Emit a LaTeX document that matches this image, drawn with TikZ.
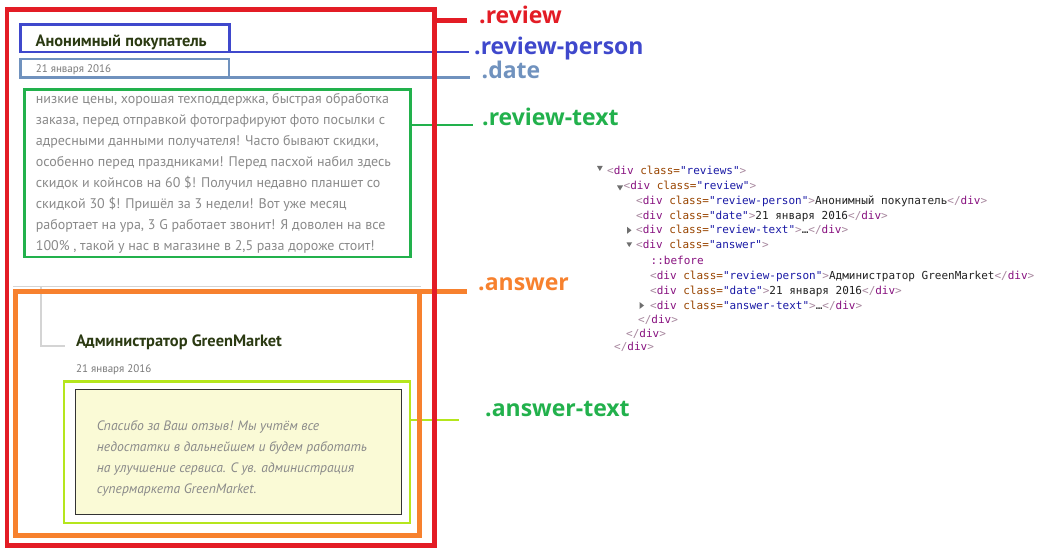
\documentclass[tikz,border=0pt]{standalone}
\usepackage{fontspec}
\setmainfont{PT Sans}
\setmonofont{DejaVu Sans Mono}
\newfontfamily\lblfont{Open Sans}
\usetikzlibrary{fit,backgrounds}
\definecolor{cRed}{HTML}{E31C25}
\definecolor{cBlue}{HTML}{3F48CC}
\definecolor{cDate}{HTML}{7092BE}
\definecolor{cGreen}{HTML}{22B14C}
\definecolor{cOrange}{HTML}{F7812E}
\definecolor{cLime}{HTML}{B5E61D}
\definecolor{cName}{HTML}{2B3A12}
\definecolor{cBody}{HTML}{8A8A8A}
\definecolor{cSmall}{HTML}{7A7A7A}
\definecolor{cPale}{HTML}{FAFAD6}
\definecolor{cBracket}{HTML}{D4D4D4}
\definecolor{cTag}{HTML}{881280}
\definecolor{cAng}{HTML}{A8889F}
\definecolor{cAttr}{HTML}{994500}
\definecolor{cVal}{HTML}{1A1AA6}
\definecolor{cTxt}{HTML}{222222}
\definecolor{cTri}{HTML}{6E6E6E}
\newcommand\cA[1]{\textcolor{cAng}{#1}}
\newcommand\cT[1]{\textcolor{cTag}{#1}}
\newcommand\cN[1]{\textcolor{cAttr}{#1}}
\newcommand\cV[1]{\textcolor{cVal}{#1}}
\newcommand\opendiv[1]{\cA{<}\cT{div} \cN{class=}\cV{"#1"}\cA{>}}
\newcommand\closediv{\cA{</}\cT{div}\cA{>}}
\begin{document}
\begin{tikzpicture}[x=1pt,y=-1pt,
  frame/.style={draw, inner sep=0pt, fill=none},
  lbl/.style={anchor=base west, inner sep=0pt, font=\lblfont\bfseries\fontsize{23}{26}\selectfont},
  namestyle/.style={anchor=base west, inner sep=0pt, text=cName, font=\bfseries\fontsize{16.4}{19}\selectfont},
  datestyle/.style={anchor=base west, inner sep=0pt, text=cSmall, font=\fontsize{11}{13}\selectfont},
  bodystyle/.style={anchor=base west, inner sep=0pt, align=left, text=cBody, font=\fontsize{14}{21}\selectfont},
  codestyle/.style={anchor=base west, inner sep=0pt, text=cTxt, font=\ttfamily\fontsize{11}{13}\selectfont},
  conn/.style={line cap=butt},
  tri/.style={fill=cTri, draw=none}]
\begin{pgfonlayer}{background}
\fill[white] (0,0) rectangle (1063,556);
\end{pgfonlayer}
\useasboundingbox (0,0) rectangle (1063,556);

% boxes
\node[frame, draw=cRed, line width=4.5pt, fit={(7,9.5)(434.5,545.5)}] (review) {};
\node[frame, draw=cBlue, line width=2.5pt, fit={(20.5,24.5)(229.5,52)}] (person) {};
\node[frame, draw=cDate, line width=2.5pt, fit={(20.5,59)(229,77.5)}] (date) {};
\node[frame, draw=cGreen, line width=2.6pt, fit={(24.7,89.5)(410.7,257)}] (rtext) {};

% ::before bracket and answer top line
\draw[cBracket, line width=1.2pt] (13,286.8) -- (421,286.8);
\draw[cBracket, line width=2pt] (40.7,286.8) -- (40.7,346) -- (65,346);

\node[frame, draw=cOrange, line width=5pt, fit={(15.5,291)(419,535.5)}] (answer) {};
\node[frame, draw=cLime, line width=2.7pt, fit={(64,381.3)(410,523)}] (atext) {};
\node[frame, draw=black!80, fill=cPale, line width=0.9pt, fit={(75.3,389.3)(401.7,514.3)}] (inner) {};

% page texts (multi-line nodes: base = last line)
\node[namestyle] (name1) at (35.5,46.5) {Анонимный покупатель};
\node[datestyle] (date1) at (35.7,72.7) {21 января 2016};
\node[bodystyle] (body) at (35.7,251) {низкие цены, хорошая техподдержка, быстрая обработка\\
заказа, перед отправкой фотографируют фото посылки с\\
адресными данными получателя! Часто бывают скидки,\\
особенно перед праздниками! Перед пасхой набил здесь\\
скидок и койнсов на 60 \$! Получил недавно планшет со\\
скидкой 30 \$! Пришёл за 3 недели! Вот уже месяц\\
рабортает на ура, 3 G работает звонит! Я доволен на все\\
100\% , такой у нас в магазине в 2,5 раза дороже стоит!};
\node[namestyle] (name2) at (75.8,346.5) {Администратор GreenMarket};
\node[datestyle] (date2) at (76,372.5) {21 января 2016};
\node[bodystyle, font=\itshape\fontsize{13.6}{20.8}\selectfont] (answertext) at (96.7,493.1) {Спасибо за Ваш отзыв! Мы учтём все\\
недостатки в дальнейшем и будем работать\\
на улучшение сервиса. С ув. администрация\\
супермаркета GreenMarket.};

% labels
\node[lbl, text=cRed] (lreview) at (479,24) {.review};
\node[lbl, text=cBlue] (lperson) at (474,55) {.review-person};
\node[lbl, text=cDate] (ldate) at (481.5,78.3) {.date};
\node[lbl, text=cGreen] (lrtext) at (482,126) {.review-text};
\node[lbl, text=cOrange] (lanswer) at (478,290.7) {.answer};
\node[lbl, text=cGreen] (latext) at (485,416.7) {.answer-text};

% connector ends
\coordinate (e1) at (467,20.5);
\coordinate (e2) at (469,52);
\coordinate (e3) at (470,77.5);
\coordinate (e4) at (473,125);
\coordinate (e5) at (467,291);
\coordinate (e6) at (459,420);
\begin{pgfonlayer}{background}
\draw[conn, cRed, line width=4.5pt] (review.east |- e1) -- (e1);
\draw[conn, cBlue, line width=2.5pt] (person.east |- e2) -- (e2);
\draw[conn, cDate, line width=2.5pt] (date.east |- e3) -- (e3);
\draw[conn, cGreen, line width=2.6pt] (rtext.east |- e4) -- (e4);
\draw[conn, cOrange, line width=5pt] (answer.east |- e5) -- (e5);
\draw[conn, cLime, line width=2.7pt] (atext.east |- e6) -- (e6);
\end{pgfonlayer}

% devtools code
\fill[tri] (597,166) -- (602.7,166) -- (599.85,171) -- cycle;
\node[codestyle] (c1) at (607,174.2) {\opendiv{reviews}};
\fill[tri] (617,185.5) -- (623,185.5) -- (620,190.5) -- cycle;
\node[codestyle] (c2) at (623.5,189.2) {\opendiv{review}};
\node[codestyle] (c3) at (636,204.2) {\opendiv{review-person}Анонимный покупатель\closediv};
\node[codestyle] (c4) at (636,219.2) {\opendiv{date}21 января 2016\closediv};
\fill[tri] (627,226.8) -- (631.5,230.3) -- (627,233.8) -- cycle;
\node[codestyle] (c5) at (636,233.8) {\opendiv{review-text}…\closediv};
\fill[tri] (626.5,242.5) -- (632,242.5) -- (629.25,247) -- cycle;
\node[codestyle] (c6) at (636,248.5) {\opendiv{answer}};
\node[codestyle, text=cTag] (c7) at (650.5,264.2) {::before};
\node[codestyle] (c8) at (650,279.2) {\opendiv{review-person}Администратор GreenMarket\closediv};
\node[codestyle] (c9) at (650,294.2) {\opendiv{date}21 января 2016\closediv};
\fill[tri] (639.5,302) -- (644,305.5) -- (639.5,309) -- cycle;
\node[codestyle] (c10) at (650,309.2) {\opendiv{answer-text}…\closediv};
\node[codestyle] (c11) at (638,323.5) {\closediv};
\node[codestyle] (c12) at (626,337) {\closediv};
\node[codestyle] (c13) at (614,350.5) {\closediv};
\end{tikzpicture}
\end{document}
